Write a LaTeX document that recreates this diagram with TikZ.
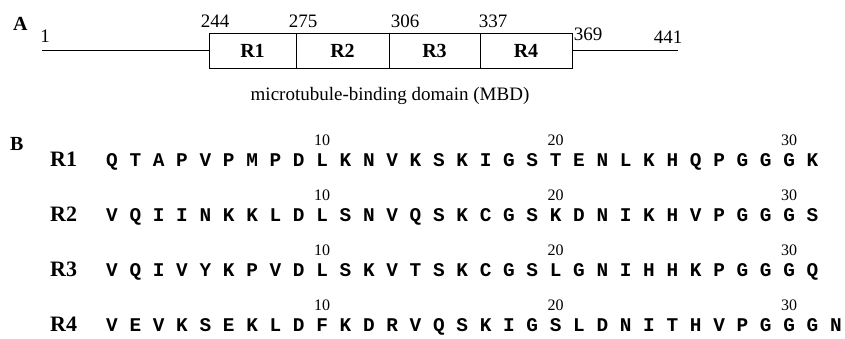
\documentclass[tikz,border=0pt]{standalone}
\usepackage{fontspec}
\setmainfont{Liberation Serif}
\newfontfamily\seqfont{Liberation Mono}
\begin{document}
\begin{tikzpicture}[x=1pt,y=-1pt,
  txt/.style={inner sep=0pt, anchor=base, font=\fontsize{19}{19}\selectfont},
  panel/.style={inner sep=0pt, anchor=base west, font=\fontsize{20}{20}\selectfont\bfseries},
  seg/.style={draw, line width=0.9pt, rectangle, inner sep=0pt, minimum height=35, font=\fontsize{20}{20}\selectfont\bfseries},
  rowlab/.style={inner sep=0pt, anchor=base west, font=\fontsize{22}{22}\selectfont\bfseries},
  aa/.style={inner sep=0pt, anchor=base, font=\fontsize{19.4}{19.4}\seqfont\bfseries},
  num/.style={inner sep=0pt, anchor=base, font=\fontsize{16}{16}\selectfont},
  bar/.style={line width=1.3pt}]
\useasboundingbox (0,0) rectangle (845,338);
% Panel A
\node[panel] (pA) at (13,30) {A};
\node[seg, minimum width=87] (b1) at (252.5,50.5) {R1};
\node[seg, minimum width=93] (b2) at (342.5,50.5) {R2};
\node[seg, minimum width=91] (b3) at (434.5,50.5) {R3};
\node[seg, minimum width=92] (b4) at (526,50.5) {R4};
\coordinate (start) at (42,50.5);
\coordinate (stop) at (678,50.5);
\draw[bar] (start) -- (b1.west);
\draw[bar] (b4.east) -- (stop);
\node[txt] (n1) at (45,42) {1};
\node[txt] (n244) at (215,27) {244};
\node[txt] (n275) at (303,27) {275};
\node[txt] (n306) at (405,27) {306};
\node[txt] (n337) at (493,27) {337};
\node[txt] (n369) at (588,40) {369};
\node[txt] (n441) at (668,43) {441};
\node[txt] (mbd) at (390,100) {microtubule-binding domain (MBD)};
% Panel B
\node[panel] (pB) at (10,150) {B};
\node[rowlab] (R1) at (50,166) {R1};
\node[rowlab] (R2) at (50,221) {R2};
\node[rowlab] (R3) at (50,276) {R3};
\node[rowlab] (R4) at (50,331) {R4};
\foreach \s [count=\i] in {Q,T,A,P,V,P,M,P,D,L,K,N,V,K,S,K,I,G,S,T,E,N,L,K,H,Q,P,G,G,G,K}
  \node[aa] (a1-\i) at ({112+(\i-1)*23.35},166) {\s};
\foreach \s [count=\i] in {V,Q,I,I,N,K,K,L,D,L,S,N,V,Q,S,K,C,G,S,K,D,N,I,K,H,V,P,G,G,G,S}
  \node[aa] (a2-\i) at ({112+(\i-1)*23.35},221) {\s};
\foreach \s [count=\i] in {V,Q,I,V,Y,K,P,V,D,L,S,K,V,T,S,K,C,G,S,L,G,N,I,H,H,K,P,G,G,G,Q}
  \node[aa] (a3-\i) at ({112+(\i-1)*23.35},276) {\s};
\foreach \s [count=\i] in {V,E,V,K,S,E,K,L,D,F,K,D,R,V,Q,S,K,I,G,S,L,D,N,I,T,H,V,P,G,G,G,N}
  \node[aa] (a4-\i) at ({112+(\i-1)*23.35},331) {\s};
\foreach \r/\y in {1/145,2/200,3/255,4/310}{
  \node[num] (t\r-10) at ({112+9*23.35},\y) {10};
  \node[num] (t\r-20) at ({112+19*23.35},\y) {20};
  \node[num] (t\r-30) at ({112+29*23.35},\y) {30};
}
\end{tikzpicture}
\end{document}
